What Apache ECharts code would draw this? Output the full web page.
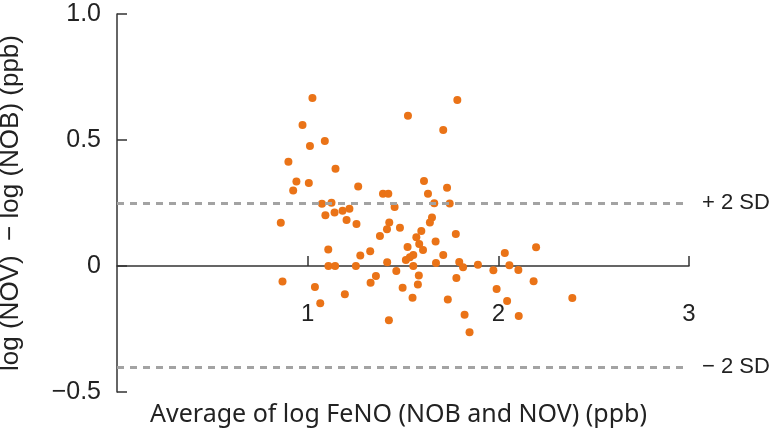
<!DOCTYPE html>
<html>
<head>
<meta charset="utf-8">
<script src="https://cdn.jsdelivr.net/npm/echarts@6/dist/echarts.min.js"></script>
<style>html,body{margin:0;padding:0;background:#fff}#c{width:775px;height:438px}</style>
</head>
<body>
<div id="c"></div>
<script>
// Average of log FeNO (x) and difference log(NOV) - log(NOB) (y)
var avgLogFeNO = [
  1.025, 0.973, 1.090, 1.012, 0.899, 1.146, 0.941, 1.006, 0.924, 1.265,
  1.395, 1.423, 1.075, 1.125, 1.093, 1.141, 1.183, 1.219, 1.204, 1.256,
  1.456, 0.859, 1.428, 1.416, 1.484, 1.379, 1.526, 1.711, 1.785, 1.610,
  1.631, 1.731, 1.664, 1.745, 1.652, 1.641, 1.596, 1.570, 1.777, 1.671,
  1.585, 1.605, 1.524, 1.711, 1.108, 1.276, 1.328, 1.554, 1.536, 1.515,
  1.109, 1.144, 1.253, 1.417, 1.465, 1.554, 1.673, 1.795, 0.868, 1.038,
  1.066, 1.195, 1.358, 1.330, 1.583, 1.578, 1.498, 1.550, 1.426, 1.735,
  1.780, 2.198, 2.034, 1.815, 1.893, 1.974, 2.058, 2.105, 2.185, 1.991,
  2.046, 2.388, 1.823, 2.107, 1.849
];
var diffLog = [
  0.667, 0.560, 0.496, 0.476, 0.414, 0.386, 0.335, 0.329, 0.300, 0.315,
  0.287, 0.287, 0.247, 0.251, 0.201, 0.212, 0.219, 0.227, 0.183, 0.167,
  0.234, 0.172, 0.173, 0.146, 0.152, 0.119, 0.596, 0.540, 0.659, 0.337,
  0.287, 0.311, 0.249, 0.248, 0.192, 0.173, 0.139, 0.114, 0.127, 0.097,
  0.087, 0.063, 0.075, 0.044, 0.065, 0.042, 0.059, 0.044, 0.035, 0.024,
  0.000, 0.000, 0.000, 0.015, -0.020, 0.000, 0.012, 0.016, -0.062, -0.083,
  -0.148, -0.112, -0.040, -0.066, -0.038, -0.073, -0.086, -0.126, -0.215, -0.133,
  -0.048, 0.074, 0.052, -0.005, 0.005, -0.017, 0.003, -0.016, -0.061, -0.091,
  -0.139, -0.127, -0.193, -0.198, -0.263
];
var plus2SD = 0.25;
var minus2SD = -0.40;
var yTickLabels = {'-0.5': '\u22120.5', '0': '0', '0.5': '0.5', '1': '1.0'};
var xTickLabels = {'1': '1', '2': '2', '3': '3'};

var points = avgLogFeNO.map(function (x, i) { return [x, diffLog[i]]; });

var chart = echarts.init(document.getElementById('c'), null, {renderer: 'canvas'});
var axisColor = '#333333';
var textColor = '#222222';
chart.setOption({
  animation: false,
  backgroundColor: '#ffffff',
  grid: {left: 117, right: 86, top: 14, bottom: 46, containLabel: false, outerBoundsMode: 'none'},
  xAxis: {
    type: 'value', min: 0, max: 3, interval: 1,
    axisLine: {onZero: true, lineStyle: {color: axisColor, width: 1.5}},
    axisTick: {show: true, inside: true, length: 10, lineStyle: {color: axisColor, width: 1.5}},
    splitLine: {show: false},
    axisLabel: {
      showMinLabel: false, margin: -90, color: textColor, fontSize: 24,
      fontFamily: 'Liberation Sans, Arial, sans-serif',
      formatter: function (v) { return xTickLabels[String(v)] || ''; }
    },
    name: 'Average of log FeNO (NOB and NOV) (ppb)',
    nameLocation: 'middle', nameGap: 10,
    nameTextStyle: {color: textColor, fontSize: 25, fontFamily: 'Noto Sans, sans-serif', padding: [0, 9, 0, 0]}
  },
  yAxis: {
    type: 'value', min: -0.5, max: 1.0, interval: 0.5,
    axisLine: {show: true, lineStyle: {color: axisColor, width: 1.5}},
    axisTick: {show: true, inside: true, length: 10, lineStyle: {color: axisColor, width: 1.5}},
    splitLine: {show: false},
    axisLabel: {
      margin: 16, color: textColor, fontSize: 25,
      fontFamily: 'Liberation Sans, Arial, sans-serif',
      formatter: function (v) { return yTickLabels[String(v)] || String(v); }
    },
    name: 'log (NOV)  \u2212 log (NOB) (ppb)',
    nameLocation: 'middle', nameGap: 93, nameRotate: 90,
    nameTextStyle: {color: textColor, fontSize: 26, fontFamily: 'Liberation Sans, Arial, sans-serif'}
  },
  series: [{
    type: 'scatter',
    data: points,
    symbol: 'circle',
    symbolSize: 8,
    itemStyle: {color: '#EA7317', opacity: 1},
    markLine: {
      silent: true,
      symbol: ['none', 'none'],
      lineStyle: {color: '#A3A3A3', width: 3, type: [7, 6]},
      label: {
        show: true, position: 'end', distance: 13,
        color: textColor, fontSize: 22, fontFamily: 'Liberation Sans, Arial, sans-serif',
        formatter: function (p) { return p.value > 0 ? '+ 2 SD' : '\u2212 2 SD'; }
      },
      data: [{yAxis: plus2SD}, {yAxis: minus2SD}]
    }
  }]
});
</script>
</body>
</html>
